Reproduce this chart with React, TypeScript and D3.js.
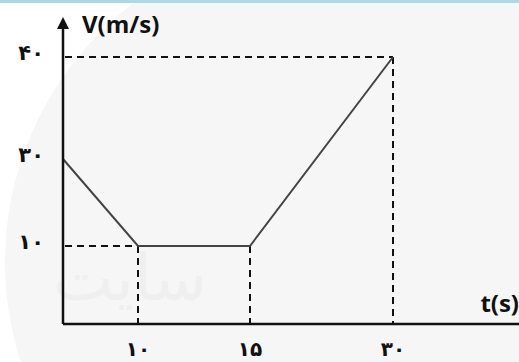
import React from "react";
import * as d3 from "d3";

const times = [0, 10, 15, 30];
const speeds = [30, 10, 10, 40];
const xTickValues = [10, 15, 30];
const xTickLabels = ["۱۰", "۱۵", "۳۰"];
const yTickValues = [10, 30, 40];
const yTickLabels = ["۱۰", "۳۰", "۴۰"];

const W = 519;
const H = 362;

// schematic (non-uniform) axes, as drawn in the reference
const x = d3.scaleLinear().domain([0, 10, 15, 30]).range([63, 138, 250, 393]);
const y = d3.scaleLinear().domain([0, 10, 30, 40]).range([324, 246, 159, 57]);

export default function App() {
  const pts: [number, number][] = times.map((t, i) => [x(t), y(speeds[i])]);
  const line = d3.line()(pts) || "";
  const dash = "7 5";
  const x0 = x(0);
  const y0 = y(0);
  const digitFont = "'DejaVu Sans', sans-serif";
  return (
    <svg
      width={W}
      height={H}
      style={{ position: "absolute", left: 0, top: 0, background: "#fff" }}
    >
      <rect x={0} y={0} width={W} height={H} fill="#fff" />
      {/* faint watermark */}
      <circle cx={330} cy={262} r={325} fill="#f6f6f6" />
      <rect x={0} y={0} width={W} height={3} fill="#add8e6" />
      <text x={130} y={300} fontSize={64} fill="#efefef" fontFamily={digitFont} textAnchor="middle">
        سایت
      </text>

      {/* dashed guides */}
      <g stroke="#111" strokeWidth={2} strokeDasharray={dash} fill="none">
        <line x1={x0 + 2} y1={y(40)} x2={x(30)} y2={y(40)} />
        <line x1={x(30)} y1={y(40)} x2={x(30)} y2={y0} />
        <line x1={x0 + 2} y1={y(10)} x2={x(10)} y2={y(10)} />
        <line x1={x(10)} y1={y(10)} x2={x(10)} y2={y0} />
        <line x1={x(15)} y1={y(10)} x2={x(15)} y2={y0} />
      </g>

      {/* data line */}
      <path d={line} fill="none" stroke="#444" strokeWidth={2} />

      {/* axes */}
      <line x1={x0} y1={y0} x2={W} y2={y0} stroke="#111" strokeWidth={2.5} />
      <line x1={x0} y1={y0} x2={x0} y2={27} stroke="#111" strokeWidth={2.5} />
      <path d={`M${x0 - 6},29 L${x0},17 L${x0 + 6},29 Z`} fill="#111" />

      {/* axis titles */}
      <text x={82} y={33} fontSize={24} fontWeight="bold" fontFamily="'Open Sans', sans-serif" fill="#111">
        V(m/s)
      </text>
      <text x={519} y={312} fontSize={24} fontWeight="bold" fontFamily="'Open Sans', sans-serif" fill="#111" textAnchor="end">
        t(s)
      </text>

      {/* y tick labels */}
      {yTickValues.map((v, i) => (
        <text
          key={"y" + v}
          x={44}
          y={y(v) - 3}
          fontSize={21}
          fontWeight="bold"
          fontFamily={digitFont}
          fill="#111"
          textAnchor="end"
          dominantBaseline="middle"
          direction="ltr"
        >
          {yTickLabels[i]}
        </text>
      ))}
      {/* x tick labels */}
      {xTickValues.map((v, i) => (
        <text
          key={"x" + v}
          x={x(v)}
          y={356}
          fontSize={20}
          fontWeight="bold"
          fontFamily={digitFont}
          fill="#111"
          textAnchor="middle"
          direction="ltr"
        >
          {xTickLabels[i]}
        </text>
      ))}
    </svg>
  );
}
